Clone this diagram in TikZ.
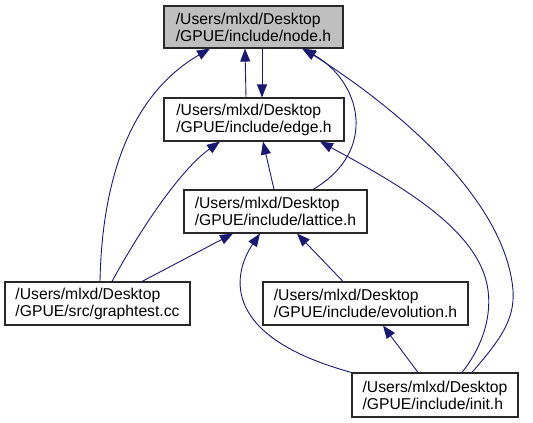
\documentclass[tikz,border=0pt]{standalone}
\usepackage{fontspec}
\setmainfont{Liberation Sans}
\usetikzlibrary{arrows.meta}
\definecolor{edgeblue}{RGB}{25,25,112}
\definecolor{curgray}{RGB}{191,191,191}
\definecolor{boxline}{RGB}{40,40,40}

\begin{document}
\begin{tikzpicture}[x=1pt, y=-1pt,
  box/.style={rectangle, draw=boxline, line width=1.1pt, fill=white, align=left, inner sep=0pt, minimum height=43pt, font=\fontsize{15.7}{17}\selectfont},
  cur/.style={box, fill=curgray},
  arrow/.style={-{Triangle[length=13pt,width=10pt]}, draw=edgeblue, line width=0.9pt}
]
\useasboundingbox (0,0) rectangle (533,423);

% Fichiers
\node[cur, minimum width=179pt, minimum height=42pt] (nodeh) at (253.5,27) {/Users/mlxd/Desktop\\/GPUE/include/node.h};
\node[box, minimum width=180pt] (edgeh) at (254,119.5) {/Users/mlxd/Desktop\\/GPUE/include/edge.h};
\node[box, minimum width=183pt] (latticeh) at (275.5,211.5) {/Users/mlxd/Desktop\\/GPUE/include/lattice.h};
\node[box, minimum width=185pt] (graphtest) at (97.5,303.5) {/Users/mlxd/Desktop\\/GPUE/src/graphtest.cc};
\node[box, minimum width=205pt] (evolutionh) at (365.5,303.5) {/Users/mlxd/Desktop\\/GPUE/include/evolution.h};
\node[box, minimum width=166pt, minimum height=44pt] (inith) at (435,395) {/Users/mlxd/Desktop\\/GPUE/include/init.h};

% Vers node.h
\draw[arrow] ([xshift=-8pt]edgeh.north) -- ([xshift=-8.5pt]nodeh.south);
\draw[arrow] ([xshift=8.5pt]nodeh.south) -- ([xshift=8pt]edgeh.north);
\draw[arrow] ([xshift=2.5pt]graphtest.north) .. controls (102,180) and (130,95) .. ([xshift=-43.5pt]nodeh.south);
\draw[arrow] ([xshift=37.5pt]latticeh.north) .. controls (380,150) and (360,80) .. ([xshift=48.5pt]nodeh.south);
\draw[arrow] ([xshift=37pt]inith.north) .. controls (500,340) and (515,320) .. (513,290)
  .. controls (505,200) and (400,110) .. ([xshift=49.5pt]nodeh.south);

% Vers edge.h
\draw[arrow] ([xshift=-1.5pt]latticeh.north) -- ([xshift=9pt]edgeh.south);
\draw[arrow] ([xshift=14.5pt]graphtest.north) .. controls (140,230) and (180,170) .. ([xshift=-34pt]edgeh.south);
\draw[arrow] ([xshift=27pt]inith.north) .. controls (480,350) and (492,320) .. (488,290)
  .. controls (480,230) and (400,185) .. ([xshift=66pt]edgeh.south);

% Vers lattice.h
\draw[arrow] ([xshift=44.5pt]graphtest.north) -- ([xshift=-42.5pt]latticeh.south);
\draw[arrow] (inith.north west) .. controls (215,335) and (235,270) .. ([xshift=-15.5pt]latticeh.south);
\draw[arrow] ([xshift=-22.5pt]evolutionh.north) -- ([xshift=21.5pt]latticeh.south);

% Vers evolution.h
\draw[arrow] ([xshift=-17pt]inith.north) -- ([xshift=17.5pt]evolutionh.south);

\end{tikzpicture}
\end{document}
